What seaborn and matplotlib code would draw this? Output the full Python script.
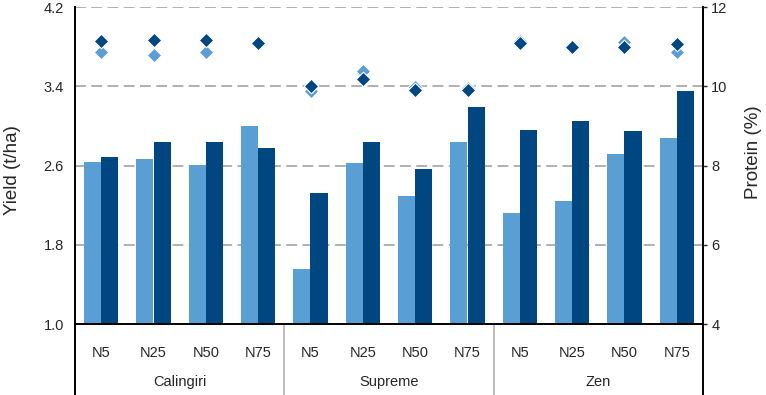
import matplotlib
matplotlib.use("Agg")
import matplotlib.pyplot as plt
import matplotlib.transforms as mtransforms
from matplotlib.lines import Line2D
import numpy as np
import pandas as pd
import seaborn as sns

varieties = ["Calingiri", "Supreme", "Zen"]
nitrogen = ["N5", "N25", "N50", "N75"]
series = ["Trial 1", "Trial 2"]

yield_light = [2.64, 2.67, 2.61, 3.00, 1.56, 2.63, 2.29, 2.84, 2.12, 2.24, 2.72, 2.88]
yield_dark = [2.69, 2.84, 2.84, 2.78, 2.32, 2.84, 2.56, 3.19, 2.96, 3.05, 2.95, 3.35]
protein_light = [10.87, 10.80, 10.87, 11.08, 9.88, 10.38, 9.97, 9.95, 11.15, 10.98, 11.12, 10.86]
protein_dark = [11.15, 11.16, 11.16, 11.10, 10.00, 10.18, 9.90, 9.90, 11.08, 10.98, 10.98, 11.07]

LIGHT = "#5a9fd4"
DARK = "#004680"
GRID = "#aaaaaa"


def main() -> None:
    sns.set_style("white")
    plt.rcParams["font.family"] = ["Liberation Sans", "DejaVu Sans"]

    n = len(varieties) * len(nitrogen)
    slots = list(range(n))
    df = pd.DataFrame({
        "slot": slots * 2,
        "series": [series[0]] * n + [series[1]] * n,
        "yield": yield_light + yield_dark,
    })

    fig = plt.figure(figsize=(7.66, 3.95), dpi=100)
    ax = fig.add_axes([75 / 766, 1 - 324 / 395, 628 / 766, 317 / 395])

    sns.barplot(data=df, x="slot", y="yield", hue="series", palette=[LIGHT, DARK],
                width=0.65, gap=0, saturation=1, linewidth=0, legend=False, ax=ax,
                zorder=2)
    ax.set_xlim(-0.5, n - 0.5)
    ax.set_ylim(1.0, 4.2)
    ax.set_yticks([1.0, 1.8, 2.6, 3.4, 4.2])
    ax.set_yticklabels(["1.0", "1.8", "2.6", "3.4", "4.2"], fontsize=10.5)
    ax.set_xticks(slots)
    ax.set_xticklabels(nitrogen * len(varieties), fontsize=10.5)
    ax.tick_params(axis="x", length=0, pad=16)
    ax.tick_params(axis="y", length=0, pad=8)
    ax.set_xlabel("")
    ax.set_ylabel("Yield (t/ha)", fontsize=13.5)
    ax.yaxis.set_label_coords(-0.086, 0.486)

    for y in [1.8, 2.6, 3.4, 4.2]:
        ax.axhline(y, color=GRID, lw=1.3, ls=(0, (6, 3)), zorder=1)

    ax.spines["top"].set_visible(False)
    for side in ["left", "bottom", "right"]:
        ax.spines[side].set_color("black")
        ax.spines[side].set_linewidth(1.4)
        ax.spines[side].set_zorder(6)

    ax2 = ax.twinx()
    sns.scatterplot(x=slots, y=protein_light, marker="D", s=55, color=LIGHT,
                    edgecolor="white", linewidth=0.8, ax=ax2, zorder=4)
    sns.scatterplot(x=slots, y=protein_dark, marker="D", s=55, color=DARK,
                    edgecolor="white", linewidth=0.8, ax=ax2, zorder=5)
    ax2.set_ylim(4, 12)
    ax2.set_xlim(-0.5, n - 0.5)
    ax2.set_yticks([4, 6, 8, 10, 12])
    ax2.set_yticklabels(["4", "6", "8", "10", "12"], fontsize=10.5)
    ax2.tick_params(axis="y", length=3, width=1, pad=3, direction="out", right=True)
    ax2.set_ylabel("Protein (%)", fontsize=13.5, rotation=90)
    ax2.yaxis.set_label_coords(1.067, 0.543)
    for side in ["top", "left", "bottom"]:
        ax2.spines[side].set_visible(False)
    ax2.spines["right"].set_color("black")
    ax2.spines["right"].set_linewidth(1.4)

    # category frame below the axis
    trans = mtransforms.blended_transform_factory(ax.transData, ax.transAxes)
    bottom = -72 / 317
    for x, col in [(-0.5, "black"), (3.5, "#b0b0b0"), (7.5, "#b0b0b0"), (n - 0.5, "black")]:
        ax.add_line(Line2D([x, x], [0, bottom], transform=trans, color=col,
                           lw=1.4 if col == "black" else 1.2, clip_on=False))
    for i, v in enumerate(varieties):
        ax.text(i * 4 + 1.5, -58 / 317, v, transform=trans, ha="center", va="center",
                fontsize=10.5)

    fig.savefig("out.png", dpi=100)


if __name__ == "__main__":
    main()
